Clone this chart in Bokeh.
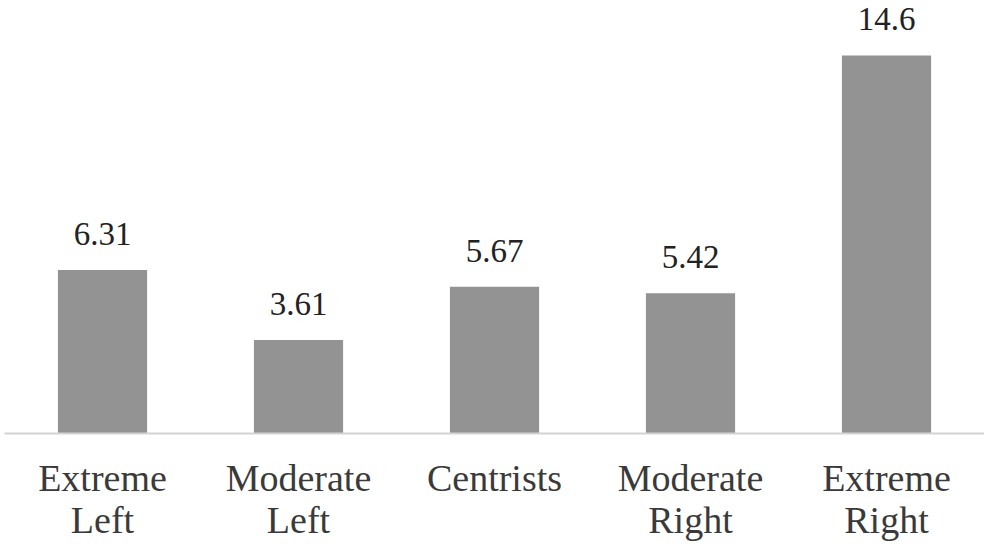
from bokeh.plotting import figure
from bokeh.models import ColumnDataSource, Range1d
from bokeh.core.properties import value
from bokeh.embed import file_html
from bokeh.resources import INLINE

categories = ["Extreme\nLeft", "Moderate\nLeft", "Centrists", "Moderate\nRight", "Extreme\nRight"]
values = [6.31, 3.61, 5.67, 5.42, 14.6]
labels = ["6.31", "3.61", "5.67", "5.42", "14.6"]

FONT = "Liberation Serif"

src = ColumnDataSource(dict(cat=categories, val=values, lab=labels))

p = figure(x_range=categories, y_range=Range1d(0, 16.72),
           frame_width=980, frame_height=433,
           output_backend="svg", toolbar_location=None,
           min_border_left=4, min_border_right=0, min_border_top=0, min_border_bottom=0)
p.outline_line_color = None
p.grid.grid_line_color = None
p.yaxis.visible = False
p.background_fill_color = "white"

p.vbar(x="cat", top="val", width=0.455, source=src, fill_color="#939393", line_color=None)
p.text(x="cat", y="val", text="lab", source=src, text_align="center", text_baseline="alphabetic",
       y_offset=-36, text_font=value(FONT), text_font_size="33px", text_color="#222222")

ax = p.xaxis[0]
ax.axis_line_color = "#d3d3d3"
ax.axis_line_width = 2
ax.major_tick_line_color = None
ax.minor_tick_line_color = None
ax.major_label_text_font = FONT
ax.major_label_text_font_size = "38px"
ax.major_label_text_color = "#3a3a3a"
ax.major_label_standoff = 17
ax.major_label_text_line_height = 1.0

open("out.html", "w").write(file_html(p, INLINE))
